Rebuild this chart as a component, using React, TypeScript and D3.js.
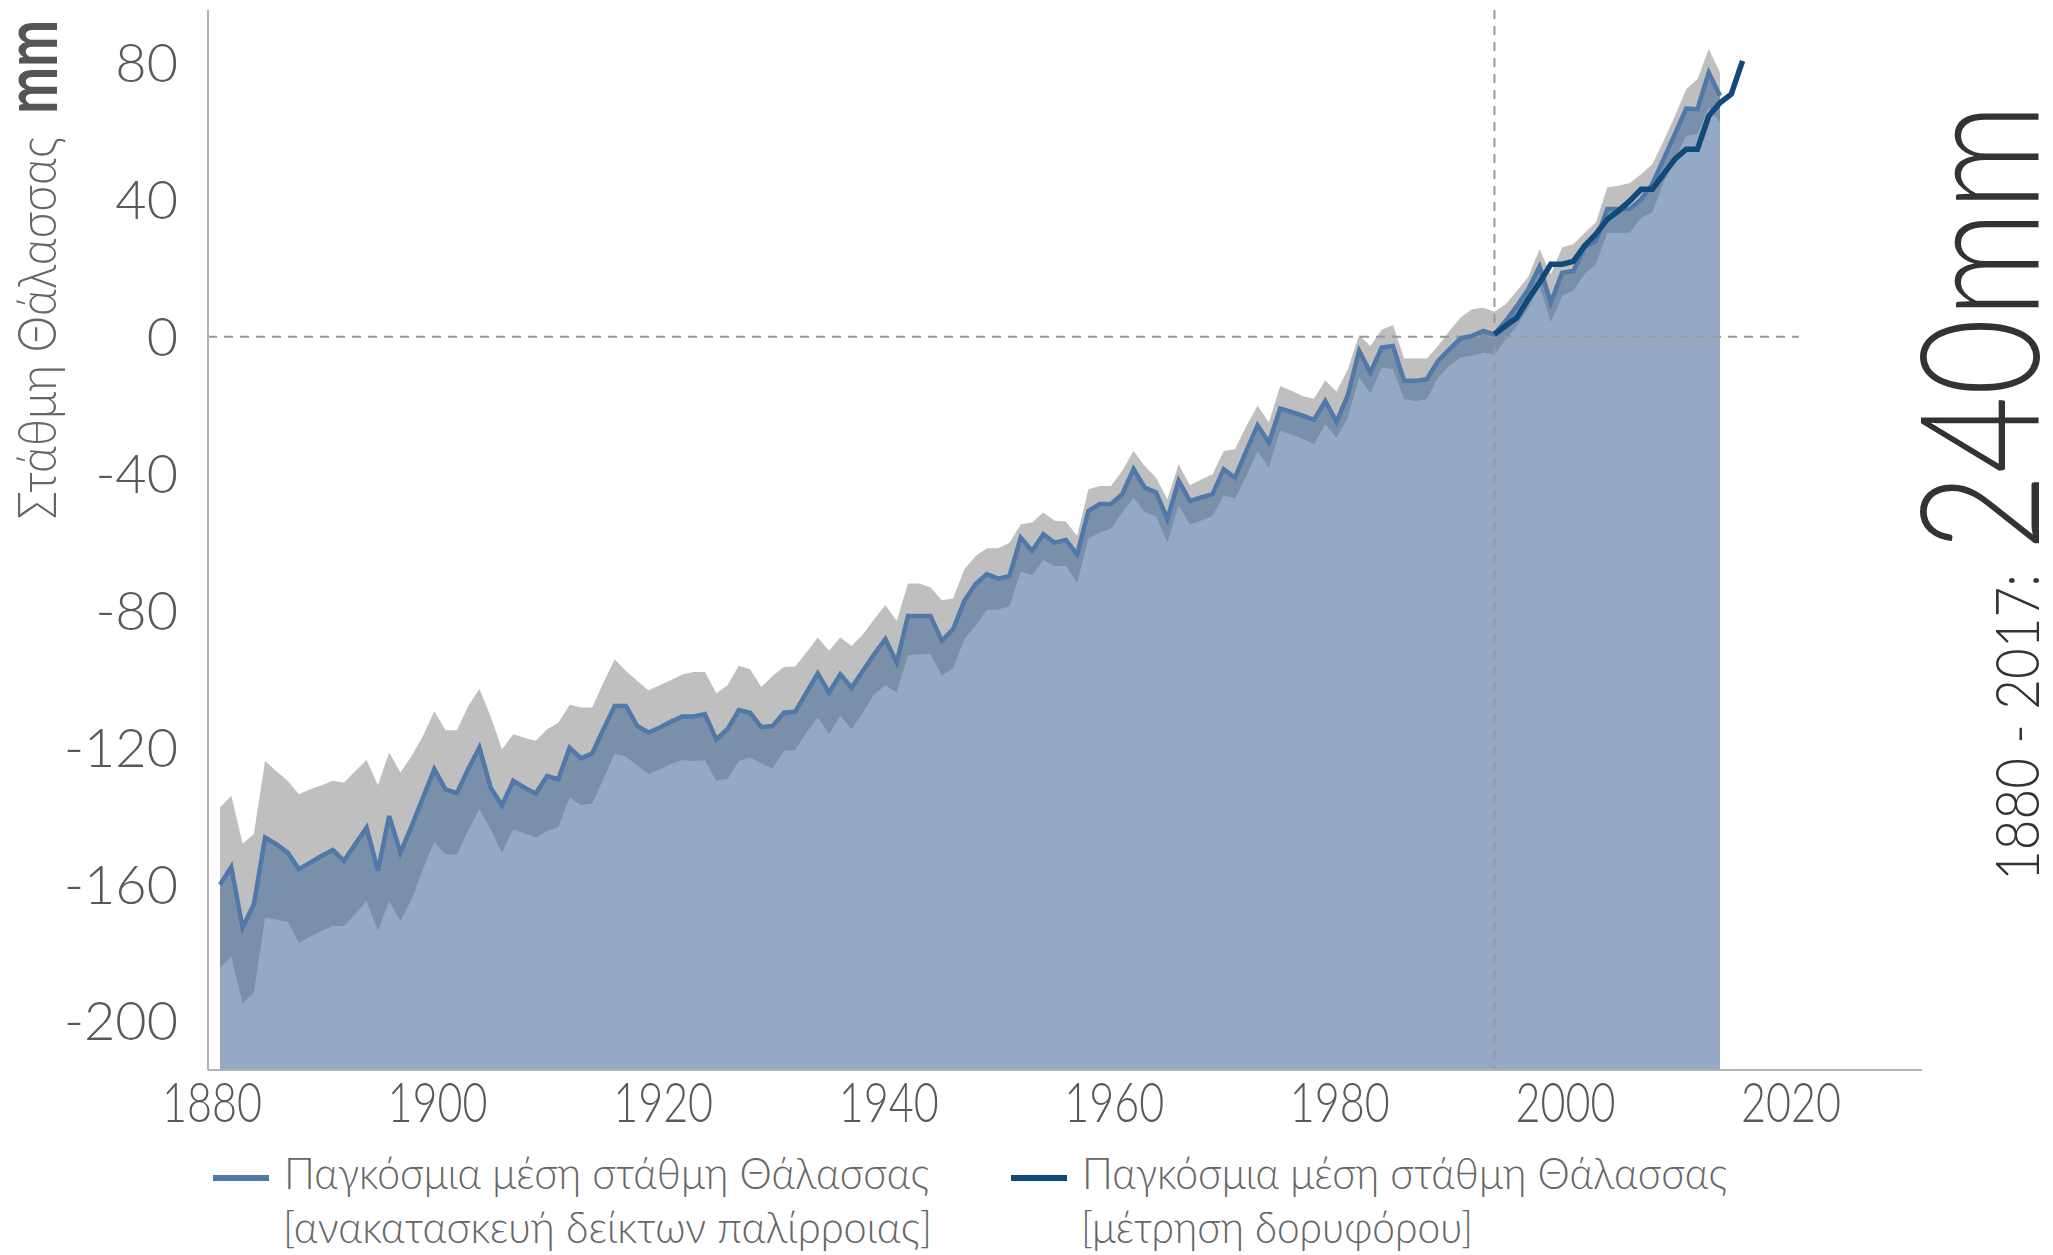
import React from "react"
import * as d3 from "d3"

const width = 2053
const height = 1255

// tide gauge reconstruction, mm relative to ~1990
const years = d3.range(1880, 2014)
const meanLevel = [
  -160.2, -155.0, -172.7, -165.9, -146.4, -148.3, -150.8, -155.6, -153.7, -151.8,
  -150.0, -153.2, -148.3, -143.5, -156.1, -140.1, -150.8, -143.0, -134.7, -126.4,
  -132.3, -133.4, -126.4, -120.1, -131.8, -137.0, -129.8, -131.8, -133.5, -128.4,
  -129.3, -120.1, -123.2, -121.8, -114.7, -107.9, -107.9, -113.8, -115.7, -114.2,
  -112.5, -111.0, -111.0, -110.3, -117.7, -114.7, -109.1, -109.9, -114.1, -113.8,
  -109.9, -109.6, -104.0, -98.4, -104.0, -98.7, -102.6, -97.7, -92.8, -88.4,
  -95.2, -81.6, -81.6, -81.6, -88.9, -85.5, -77.2, -72.3, -69.4, -70.7,
  -69.9, -58.7, -62.6, -57.7, -60.2, -59.4, -63.6, -50.9, -48.9, -48.9,
  -46.0, -38.7, -44.1, -45.5, -53.3, -42.1, -48.0, -47.0, -46.0, -38.7,
  -41.2, -33.4, -25.9, -30.9, -21.0, -22.0, -23.1, -24.3, -18.8, -24.9,
  -17.1, -4.1, -10.5, -3.2, -2.7, -12.9, -12.9, -12.4, -7.1, -3.7,
  -0.5, 0.2, 1.7, 0.7, 4.6, 9.0, 13.9, 20.5, 10.0, 18.7,
  19.2, 26.1, 28.0, 37.3, 37.3, 37.3, 40.2, 44.6, 51.9, 59.2,
  66.7, 66.5, 77.2, 70.4,
]
const upperBound = [
  -137.6, -134.2, -148.1, -145.4, -124.0, -127.0, -129.8, -133.7, -132.3, -131.1,
  -129.8, -130.3, -126.9, -123.7, -131.1, -121.5, -127.4, -122.5, -116.7, -109.5,
  -115.0, -115.0, -108.0, -103.0, -111.0, -120.6, -116.2, -117.2, -118.1, -114.7,
  -112.8, -107.6, -108.4, -108.4, -101.1, -94.3, -97.7, -100.6, -103.3, -101.9,
  -100.3, -98.7, -98.0, -98.0, -104.2, -101.9, -96.2, -97.2, -102.4, -99.1,
  -96.5, -96.4, -92.3, -87.9, -91.8, -87.9, -90.4, -87.0, -82.6, -78.4,
  -83.1, -72.1, -72.1, -73.3, -77.0, -76.5, -68.0, -64.1, -61.8, -61.8,
  -60.2, -54.8, -54.3, -51.4, -53.8, -54.0, -58.2, -44.6, -43.6, -43.6,
  -39.2, -33.4, -37.8, -41.2, -47.5, -37.3, -43.4, -41.7, -40.2, -33.4,
  -32.9, -26.1, -20.2, -25.1, -14.4, -15.8, -17.3, -18.1, -12.7, -16.1,
  -9.5, 0.5, -2.7, 2.0, 3.4, -6.4, -6.4, -6.4, -2.7, 1.7,
  5.6, 8.0, 8.5, 7.3, 9.5, 13.4, 17.5, 25.6, 18.2, 26.1,
  27.0, 30.4, 33.4, 43.6, 44.1, 44.9, 47.5, 50.4, 57.2, 64.5,
  72.3, 75.3, 84.0, 77.2,
]
const lowerBound = [
  -184.4, -181.2, -194.9, -191.7, -169.8, -170.3, -171.0, -177.1, -175.3, -173.7,
  -172.2, -172.2, -168.8, -164.9, -173.7, -164.9, -170.8, -164.4, -155.6, -147.7,
  -151.3, -151.3, -144.4, -138.1, -144.0, -150.8, -144.0, -145.2, -146.4, -144.5,
  -143.3, -134.7, -136.9, -136.5, -129.3, -121.8, -122.8, -125.4, -127.9, -126.4,
  -124.9, -123.7, -124.0, -123.8, -129.8, -129.3, -124.0, -123.0, -124.7, -126.2,
  -121.1, -120.8, -115.7, -111.3, -116.2, -110.8, -114.7, -109.9, -104.5, -101.9,
  -104.0, -93.1, -92.8, -92.8, -99.0, -97.0, -88.4, -84.5, -79.8, -79.8,
  -78.7, -68.7, -69.7, -65.3, -67.0, -67.0, -71.9, -59.0, -57.2, -56.1,
  -51.4, -47.0, -51.2, -52.4, -60.2, -49.4, -54.8, -53.8, -52.4, -46.3,
  -47.3, -40.7, -33.4, -38.2, -27.5, -28.5, -29.8, -31.4, -25.6, -29.5,
  -23.6, -11.9, -16.5, -9.0, -9.5, -18.3, -18.8, -18.3, -11.9, -8.5,
  -6.1, -5.6, -4.6, -5.2, -0.8, 3.2, 8.3, 15.0, 4.2, 11.9,
  13.4, 18.3, 21.2, 30.4, 30.4, 30.4, 34.8, 36.3, 45.1, 51.9,
  58.7, 59.2, 67.0, 62.6,
]

// satellite altimetry
const satYears = d3.range(1993, 2016)
const satLevel = [
  0.7, 3.2, 5.6, 11.0, 15.8, 21.2, 21.2, 22.0, 26.6, 30.0,
  34.3, 36.8, 39.7, 43.1, 43.1, 47.5, 51.9, 54.8, 54.8, 64.5,
  68.4, 70.9, 80.6,
]

const yTicks = [80, 40, 0, -40, -80, -120, -160, -200]
const xTicks = [1880, 1900, 1920, 1940, 1960, 1980, 2000, 2020]

const legendItems = [
  { color: "#5078a8", line1: "Παγκόσμια μέση στάθμη Θάλασσας", line2: "[ανακατασκευή δείκτων παλίρροιας]" },
  { color: "#0f4a7a", line1: "Παγκόσμια μέση στάθμη Θάλασσας", line2: "[μέτρηση δορυφόρου]" },
]

const font = "Lato, 'Open Sans', sans-serif"

const App = () => {
  const x = d3.scaleLinear().domain([1880, 2013]).range([220, 1720])
  const y = d3.scaleLinear().domain([-200, 80]).range([1021, 63])

  const axisLeft = 208
  const axisRight = 1922
  const axisTop = 10
  const axisBottom = 1070

  const rows = years.map((yr, i) => ({
    year: yr,
    mean: meanLevel[i],
    lo: lowerBound[i],
    hi: upperBound[i],
  }))
  const satRows = satYears.map((yr, i) => ({ year: yr, v: satLevel[i] }))

  const band = d3
    .area<any>()
    .x(d => x(d.year))
    .y0(d => y(d.lo))
    .y1(d => y(d.hi))
  const meanArea = d3
    .area<any>()
    .x(d => x(d.year))
    .y0(axisBottom)
    .y1(d => y(d.mean))
  const meanLine = d3
    .line<any>()
    .x(d => x(d.year))
    .y(d => y(d.mean))
  const satLine = d3
    .line<any>()
    .x(d => x(d.year))
    .y(d => y(d.v))

  const legendX = [213, 1011]

  return (
    <svg
      width={width}
      height={height}
      style={{ position: "absolute", left: 0, top: 0, background: "#fff" }}
      fontFamily={font}
    >
      <path d={band(rows)} fill="#bfbfbf" />
      <path d={meanArea(rows)} fill="#4d709c" fillOpacity={0.6} />

      {/* reference lines */}
      <line
        x1={axisLeft}
        x2={x(2020)}
        y1={y(0)}
        y2={y(0)}
        stroke="#999"
        strokeWidth={2}
        strokeDasharray="9 7"
      />
      <line
        x1={x(1993)}
        x2={x(1993)}
        y1={axisTop}
        y2={axisBottom}
        stroke="#999"
        strokeWidth={2}
        strokeDasharray="9 7"
      />

      <path d={meanLine(rows)} fill="none" stroke="#5078a8" strokeWidth={4.5} />
      <path d={satLine(satRows)} fill="none" stroke="#0f4a7a" strokeWidth={5.5} />

      {/* axes */}
      <line x1={axisLeft} x2={axisLeft} y1={axisTop} y2={axisBottom} stroke="#b3b3b3" strokeWidth={2} />
      <line x1={axisLeft} x2={axisRight} y1={axisBottom} y2={axisBottom} stroke="#b3b3b3" strokeWidth={2} />

      {yTicks.map(t => (
        <text
          key={t}
          x={178}
          y={y(t)}
          dy="0.36em"
          textAnchor="end"
          fontSize={54}
          fontWeight={300}
          fill="#595959"
        >
          {t}
        </text>
      ))}
      {xTicks.map(t => (
        <text
          key={t}
          x={x(t) - 8}
          y={1122}
          textAnchor="middle"
          fontSize={56}
          fontWeight={300}
          fill="#595959"
          textLength={100}
          lengthAdjust="spacingAndGlyphs"
        >
          {t}
        </text>
      ))}

      {/* y label */}
      <text
        transform="translate(56,519) rotate(-90)"
        fontSize={54}
        fontWeight={300}
        fill="#666"
        textLength={382}
        lengthAdjust="spacingAndGlyphs"
      >
        Στάθμη Θάλασσας
      </text>
      <text
        transform="translate(57,114) rotate(-90)"
        fontSize={74}
        fontWeight={700}
        fill="#555"
        textLength={94}
        lengthAdjust="spacingAndGlyphs"
      >
        mm
      </text>

      {/* right annotation */}
      <text
        transform="translate(2039,881) rotate(-90)"
        fontSize={62}
        fontWeight={300}
        fill="#333"
        textLength={307}
        lengthAdjust="spacingAndGlyphs"
      >
        1880 - 2017:
      </text>
      <text
        transform="translate(2039,551) rotate(-90)"
        fontSize={165}
        fontWeight={300}
        fill="#333"
        textLength={448}
        lengthAdjust="spacingAndGlyphs"
      >
        240mm
      </text>

      {/* legend */}
      {legendItems.map((item, i) => (
        <g key={i}>
          <line
            x1={legendX[i]}
            x2={legendX[i] + 56}
            y1={1178}
            y2={1178}
            stroke={item.color}
            strokeWidth={6}
          />
          <text
            x={legendX[i] + 71}
            y={1189}
            fontSize={44}
            fontWeight={300}
            fill="#666"
            textLength={645}
            lengthAdjust="spacingAndGlyphs"
          >
            {item.line1}
          </text>
          <text
            x={legendX[i] + 70}
            y={1243}
            fontSize={44}
            fontWeight={300}
            fill="#666"
            textLength={i === 0 ? 649 : 392}
            lengthAdjust="spacingAndGlyphs"
          >
            {item.line2}
          </text>
        </g>
      ))}
    </svg>
  )
}

export default App
